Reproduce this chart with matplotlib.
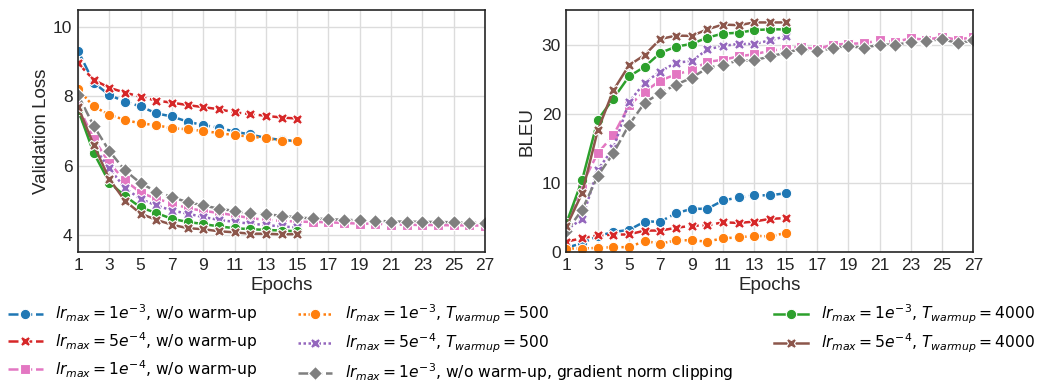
import matplotlib
matplotlib.use("Agg")
import matplotlib.pyplot as plt

plt.rcParams["font.family"] = ["Liberation Sans", "DejaVu Sans"]
plt.rcParams["mathtext.fontset"] = "dejavusans"

epochs_short = list(range(1, 16))
epochs_long = list(range(1, 28))

labels = [
    r"$lr_{max} = 1e^{-3}$, w/o warm-up",
    r"$lr_{max} = 5e^{-4}$, w/o warm-up",
    r"$lr_{max} = 1e^{-4}$, w/o warm-up",
    r"$lr_{max} = 1e^{-3}$, $T_{warmup} = 500$",
    r"$lr_{max} = 5e^{-4}$, $T_{warmup} = 500$",
    r"$lr_{max} = 1e^{-3}$, w/o warm-up, gradient norm clipping",
    r"$lr_{max} = 1e^{-3}$, $T_{warmup} = 4000$",
    r"$lr_{max} = 5e^{-4}$, $T_{warmup} = 4000$",
]

# validation loss
loss_blue = [9.32, 8.40, 8.04, 7.85, 7.71, 7.51, 7.42, 7.27, 7.17, 7.10, 6.98, 6.90, 6.80, 6.74, 6.71]
loss_red = [8.96, 8.48, 8.25, 8.11, 7.99, 7.88, 7.82, 7.75, 7.69, 7.63, 7.54, 7.49, 7.44, 7.39, 7.36]
loss_pink = [7.73, 6.78, 6.07, 5.57, 5.22, 5.04, 4.91, 4.77, 4.69, 4.63, 4.56, 4.48, 4.43, 4.40,
             4.38, 4.37, 4.36, 4.34, 4.32, 4.32, 4.29, 4.29, 4.28, 4.28, 4.27, 4.27, 4.26]
loss_orange = [8.21, 7.71, 7.47, 7.32, 7.22, 7.17, 7.08, 7.05, 7.00, 6.94, 6.88, 6.84, 6.79, 6.72, 6.71]
loss_purple = [7.58, 6.55, 5.92, 5.35, 5.03, 4.85, 4.70, 4.61, 4.51, 4.43, 4.37, 4.32, 4.28, 4.24, 4.21]
loss_gray = [8.04, 7.15, 6.42, 5.86, 5.49, 5.25, 5.09, 4.94, 4.85, 4.75, 4.69, 4.62, 4.59, 4.55,
             4.50, 4.47, 4.45, 4.43, 4.42, 4.41, 4.38, 4.38, 4.37, 4.37, 4.36, 4.35, 4.34]
loss_green = [7.62, 6.37, 5.51, 5.12, 4.79, 4.63, 4.46, 4.37, 4.31, 4.24, 4.19, 4.16, 4.14, 4.12, 4.10]
loss_brown = [7.70, 6.60, 5.61, 4.98, 4.61, 4.43, 4.29, 4.19, 4.16, 4.10, 4.07, 4.03, 4.03, 4.01, 4.02]

# BLEU
bleu_blue = [0.6, 1.3, 2.3, 2.9, 3.2, 4.4, 4.4, 5.6, 6.25, 6.25, 7.45, 7.9, 8.2, 8.2, 8.5]
bleu_red = [1.5, 2.0, 2.4, 2.5, 2.55, 3.1, 3.1, 3.5, 3.8, 3.85, 4.3, 4.2, 4.4, 4.8, 4.9]
bleu_pink = [3.7, 9.8, 14.3, 16.9, 21.2, 23.2, 24.8, 25.7, 26.3, 27.5, 27.8, 28.3, 28.6, 29.1,
             29.4, 29.7, 29.3, 30.0, 30.1, 30.2, 30.6, 30.4, 30.9, 30.7, 31.1, 30.7, 31.1]
bleu_orange = [0.5, 0.5, 0.6, 0.7, 0.7, 1.6, 1.2, 1.7, 1.7, 1.5, 2.0, 2.1, 2.35, 2.25, 2.75]
bleu_purple = [3.2, 4.8, 11.9, 15.0, 21.7, 24.5, 26.1, 27.4, 27.6, 29.3, 29.8, 30.1, 30.1, 30.6, 31.2]
bleu_gray = [3.0, 6.1, 11.0, 14.3, 18.4, 21.6, 23.0, 24.2, 25.2, 26.6, 27.1, 27.7, 27.7, 28.3,
             28.8, 29.4, 29.0, 29.5, 29.8, 29.5, 30.0, 30.0, 30.3, 30.5, 30.8, 30.2, 30.6]
bleu_green = [4.2, 10.4, 19.1, 22.2, 25.4, 26.8, 28.8, 29.7, 30.1, 31.0, 31.6, 31.7, 32.1, 32.2, 32.2]
bleu_brown = [3.7, 8.5, 17.6, 23.4, 27.0, 28.5, 30.8, 31.3, 31.25, 32.2, 32.9, 32.8, 33.2, 33.2, 33.2]

colors = ["#1f77b4", "#d62728", "#e377c2", "#ff7f0e", "#9467bd", "#7f7f7f", "#2ca02c", "#8c564b"]
markers = ["o", "X", "s", "o", "X", "D", "o", "X"]
dashes = [(4, 1.5), (4, 1.5), (4, 1.5), (1, 1), (1, 1), (4, 1.5), None, None]

loss_series = [loss_blue, loss_red, loss_pink, loss_orange, loss_purple, loss_gray, loss_green, loss_brown]
bleu_series = [bleu_blue, bleu_red, bleu_pink, bleu_orange, bleu_purple, bleu_gray, bleu_green, bleu_brown]

fig = plt.figure(figsize=(10.43, 3.83), dpi=100)
ax1 = fig.add_axes([0.0748, 0.342, 0.3902, 0.6319])
ax2 = fig.add_axes([0.5431, 0.342, 0.3902, 0.6319])


def draw(ax, series):
    handles = []
    for vals, c, m, d, lab in zip(series, colors, markers, dashes, labels):
        x = epochs_long if len(vals) == 27 else epochs_short
        ms = 7 if m == "D" else 7.5
        line, = ax.plot(x, vals, color=c, marker=m, ms=ms, mec="white", mew=0.8,
                        lw=1.8, label=lab)
        if d is not None:
            line.set_dashes(d)
        handles.append(line)
    ax.set_xlim(1, 27)
    ax.set_xticks(range(1, 28, 2))
    ax.grid(True, color="#dcdcdc", lw=1)
    ax.set_axisbelow(True)
    for s in ax.spines.values():
        s.set_color("#262626")
        s.set_linewidth(1.2)
    ax.tick_params(length=0, labelsize=12.5, pad=4, colors="#262626")
    ax.set_xlabel("Epochs", fontsize=13.5, labelpad=3, color="#262626")
    return handles


handles = draw(ax1, loss_series)
ax1.set_ylim(3.5, 10.5)
ax1.set_yticks([4, 6, 8, 10])
ax1.set_ylabel("Validation Loss", fontsize=13.5, color="#262626", labelpad=2)

draw(ax2, bleu_series)
ax2.set_ylim(0, 35)
ax2.set_yticks([0, 10, 20, 30])
ax2.set_ylabel("BLEU", fontsize=13.5, color="#262626")

fig.legend(handles=handles, loc="upper left", bbox_to_anchor=(0.002, 0.227, 0.996, 0),
           mode="expand", ncol=3, frameon=False, borderaxespad=0,
           prop={"family": "DejaVu Sans", "size": 11.2}, handlelength=2.2,
           handletextpad=0.8, labelspacing=0.4)

fig.savefig("out.png", dpi=100)
